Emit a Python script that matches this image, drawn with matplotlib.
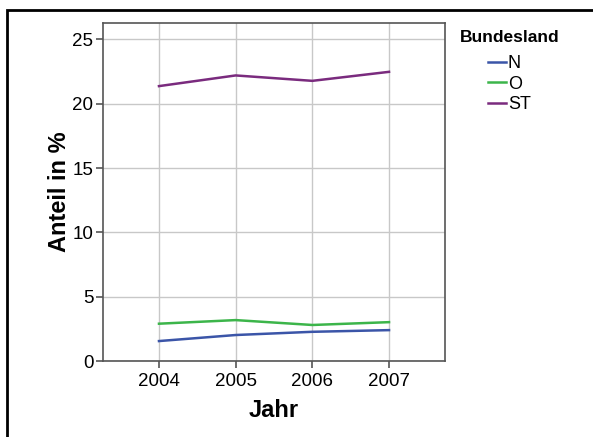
import matplotlib.pyplot as plt
from matplotlib.lines import Line2D
from matplotlib.patches import Rectangle

plt.rcParams['font.family'] = ['Liberation Sans', 'DejaVu Sans']

jahre = [2004, 2005, 2006, 2007]
anteil_n = [1.55, 2.02, 2.27, 2.40]
anteil_o = [2.90, 3.18, 2.80, 3.02]
anteil_st = [21.37, 22.20, 21.78, 22.48]
bundeslaender = ['N', 'O', 'ST']
farben = ['#3b55a8', '#3cb54a', '#7a2b7e']

W, H = 593, 437
fig = plt.figure(figsize=(W / 100, H / 100), dpi=100)
fig.patches.append(Rectangle((7 / W, -0.1), 1.2, 1 - 10 / H + 0.1, transform=fig.transFigure,
                             fill=False, edgecolor='black', linewidth=2.0))

ax = fig.add_axes([103 / W, 1 - 361 / H, (445 - 103) / W, (361 - 22.7) / H])
for werte, farbe in zip([anteil_n, anteil_o, anteil_st], farben):
    ax.plot(jahre, werte, color=farbe, linewidth=1.8, zorder=3)

ax.set_xlim(2003.27, 2007.73)
ax.set_ylim(0, 26.3)
ax.set_xticks(jahre)
ax.set_yticks([0, 5, 10, 15, 20, 25])
ax.grid(True, color='#c8c8c8', linewidth=1.0)
ax.set_axisbelow(True)
for s in ax.spines.values():
    s.set_color('#555555')
    s.set_linewidth(1.2)
ax.tick_params(axis='both', labelsize=13.5, length=5, width=1.2, color='#555555', pad=2)
ax.tick_params(axis='x', pad=4)
ax.set_xlabel('Jahr', fontsize=17, fontweight='bold', labelpad=6)
ax.set_ylabel('Anteil in %', fontsize=17, fontweight='bold', labelpad=1)

fig.text(460 / W, 1 - 37 / H, 'Bundesland', fontsize=12.5, fontweight='bold', va='center')
handles = [Line2D([], [], color=f, linewidth=1.8) for f in farben]
leg = fig.legend(handles, bundeslaender, loc='upper left',
                 bbox_to_anchor=(488 / W, 1 - 55 / H), frameon=False, fontsize=13,
                 handlelength=1.0, handletextpad=0.1, labelspacing=0.2,
                 borderpad=0.0, borderaxespad=0.0)

fig.savefig('out.png', dpi=100)
